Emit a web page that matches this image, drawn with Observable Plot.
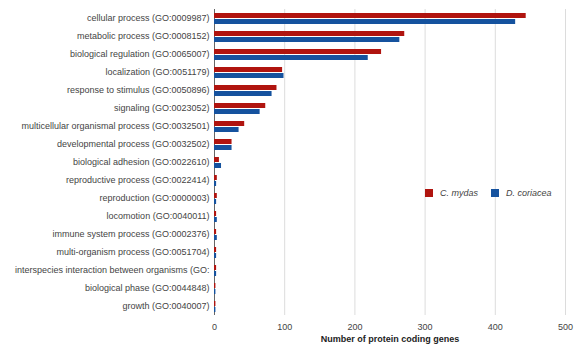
<!DOCTYPE html>
<html>
<head>
<meta charset="utf-8">
<script src="https://cdn.jsdelivr.net/npm/d3@7"></script>
<script src="https://cdn.jsdelivr.net/npm/@observablehq/plot@0.6"></script>
<style>
  body { margin: 0; background: #fff; font-family: Arial, "Liberation Sans", sans-serif; }
  #wrap { position: relative; width: 576px; height: 350px; }
  #legend { position: absolute; left: 425px; top: 188px; font-size: 9px; color: #444; font-style: italic; display: flex; align-items: center; }
  #legend .sw { width: 8px; height: 8px; display: inline-block; margin-right: 7px; }
  #legend .it { display: flex; align-items: center; margin-right: 13px; }
  svg [aria-label="x-axis label"] text { font-weight: bold; fill: #222; }
</style>
</head>
<body>
<div id="wrap"><div id="legend"></div></div>
<script>
const categories = [
  "cellular process (GO:0009987)",
  "metabolic process (GO:0008152)",
  "biological regulation (GO:0065007)",
  "localization (GO:0051179)",
  "response to stimulus (GO:0050896)",
  "signaling (GO:0023052)",
  "multicellular organismal process (GO:0032501)",
  "developmental process (GO:0032502)",
  "biological adhesion (GO:0022610)",
  "reproductive process (GO:0022414)",
  "reproduction (GO:0000003)",
  "locomotion (GO:0040011)",
  "immune system process (GO:0002376)",
  "multi-organism process (GO:0051704)",
  "interspecies interaction between organisms (GO:",
  "biological phase (GO:0044848)",
  "growth (GO:0040007)"
];
const seriesNames = ["C. mydas", "D. coriacea"];
const mydas    = [444, 271, 238, 97, 89, 73, 43, 25, 7, 4, 4, 3, 3, 3, 3, 2, 2];
const coriacea = [429, 264, 219, 99, 82, 65, 35, 25, 10, 3, 3, 4, 4, 3, 3, 2, 2];
const colors = ["#b0140f", "#15529e"];
const xTicks = [0, 100, 200, 300, 400, 500];

const data = categories.flatMap((c, i) => [
  {cat: c, series: seriesNames[0], value: mydas[i]},
  {cat: c, series: seriesNames[1], value: coriacea[i]}
]);

const chart = Plot.plot({
  width: 576,
  height: 350,
  marginLeft: 214,
  marginRight: 11,
  marginTop: 6,
  marginBottom: 33,
  style: {fontFamily: "Arial, 'Liberation Sans', sans-serif", fontSize: "9px", color: "#444"},
  x: {domain: [0, 500]},
  y: {domain: seriesNames, paddingInner: 0.25, paddingOuter: 0.625, axis: null},
  fy: {domain: categories, padding: 0},
  color: {domain: seriesNames, range: colors},
  marks: [
    Plot.gridX({ticks: xTicks.slice(1), stroke: "#dcdcdc", strokeOpacity: 1}),
    Plot.ruleX([0], {stroke: "#666"}),
    Plot.barX(data, {x: "value", y: "series", fy: "cat", fill: "series"}),
    Plot.axisFy({anchor: "left", tickSize: 0, tickPadding: 5, label: null, fontSize: 9, fill: "#444"}),
    Plot.axisX({ticks: xTicks, tickSize: 0, tickPadding: 8, fontSize: 9, fill: "#444",
      label: "Number of protein coding genes", labelAnchor: "center", labelArrow: false, labelOffset: 26})
  ]
});
document.getElementById("wrap").prepend(chart);

const legend = document.getElementById("legend");
seriesNames.forEach((s, i) => {
  const it = document.createElement("span");
  it.className = "it";
  const sw = document.createElement("span");
  sw.className = "sw";
  sw.style.background = colors[i];
  it.appendChild(sw);
  it.appendChild(document.createTextNode(s));
  legend.appendChild(it);
});
</script>
</body>
</html>
